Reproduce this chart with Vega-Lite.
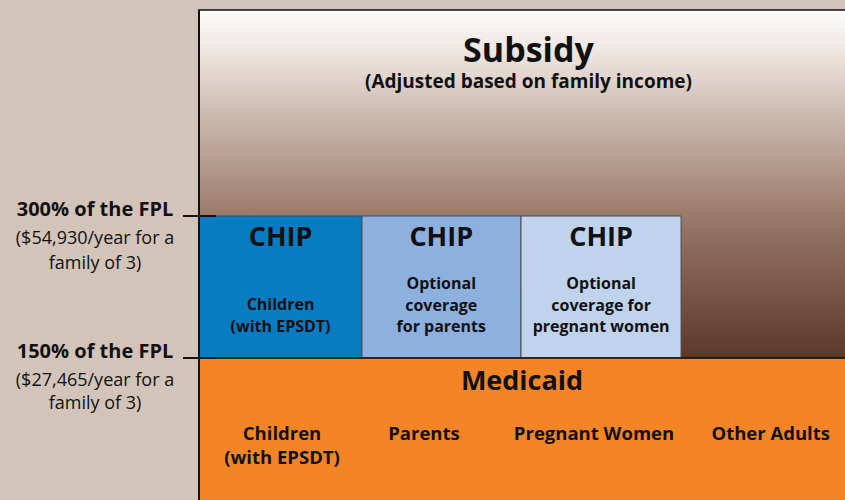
{
  "$schema": "https://vega.github.io/schema/vega-lite/v6.json",
  "width": 845,
  "height": 500,
  "autosize": {"type": "none"},
  "padding": 0,
  "background": "#d3c4ba",
  "config": {"view": {"stroke": null}},
  "datasets": {
    "boxes": [
      {"name": "Subsidy", "x0": 0, "x1": 4.05, "y0": 150, "y1": 517.5},
      {"name": "CHIP children", "x0": 0, "x1": 1.009, "y0": 150, "y1": 300},
      {"name": "CHIP parents", "x0": 1.009, "x1": 1.994, "y0": 150, "y1": 300},
      {"name": "CHIP pregnant women", "x0": 1.994, "x1": 2.985, "y0": 150, "y1": 300},
      {"name": "Medicaid", "x0": 0, "x1": 4.05, "y0": -5, "y1": 150}
    ],
    "rules": [
      {"x0": 0, "x1": 0, "y0": 0, "y1": 517.5},
      {"x0": -0.099, "x1": 0.105, "y0": 300, "y1": 300},
      {"x0": -0.099, "x1": 0.105, "y0": 150, "y1": 150}
    ],
    "labels": [
      {"role": "big", "text": "Subsidy", "x": 2.04, "y": 473.2},
      {"role": "sub", "text": "(Adjusted based on family income)", "x": 2.04, "y": 441.5},
      {"role": "chip", "text": "CHIP", "x": 0.505, "y": 276.8},
      {"role": "chip", "text": "CHIP", "x": 1.5, "y": 276.8},
      {"role": "chip", "text": "CHIP", "x": 2.49, "y": 276.8},
      {"role": "box", "text": "Children", "x": 0.505, "y": 206.0},
      {"role": "box", "text": "(with EPSDT)", "x": 0.505, "y": 182.7},
      {"role": "box", "text": "Optional", "x": 1.5, "y": 228.2},
      {"role": "box", "text": "coverage", "x": 1.5, "y": 204.9},
      {"role": "box", "text": "for parents", "x": 1.5, "y": 182.7},
      {"role": "box", "text": "Optional", "x": 2.49, "y": 228.2},
      {"role": "box", "text": "coverage for", "x": 2.49, "y": 204.9},
      {"role": "box", "text": "pregnant women", "x": 2.49, "y": 182.7},
      {"role": "medicaid", "text": "Medicaid", "x": 2.0, "y": 124.6},
      {"role": "group", "text": "Children", "x": 0.514, "y": 69.7},
      {"role": "group", "text": "(with EPSDT)", "x": 0.514, "y": 44.4},
      {"role": "group", "text": "Parents", "x": 1.393, "y": 69.7},
      {"role": "group", "text": "Pregnant Women", "x": 2.446, "y": 69.7},
      {"role": "group", "text": "Other Adults", "x": 3.54, "y": 69.7},
      {"role": "level", "text": "300% of the FPL", "x": -0.644, "y": 306.3},
      {"role": "note", "text": "($54,930/year for a", "x": -0.644, "y": 276.2},
      {"role": "note", "text": "family of 3)", "x": -0.644, "y": 249.8},
      {"role": "level", "text": "150% of the FPL", "x": -0.644, "y": 156.3},
      {"role": "note", "text": "($27,465/year for a", "x": -0.644, "y": 126.2},
      {"role": "note", "text": "family of 3)", "x": -0.644, "y": 100.9}
    ]
  },
  "layer": [
    {
      "data": {"name": "boxes"},
      "transform": [{"filter": "datum.name === 'Subsidy'"}],
      "mark": {
        "type": "rect",
        "clip": true,
        "stroke": "#111",
        "strokeWidth": 1.5,
        "fill": {
          "gradient": "linear",
          "x1": 0, "y1": 0, "x2": 0, "y2": 1,
          "stops": [
            {"offset": 0, "color": "#fcfbfa"},
            {"offset": 0.12, "color": "#eee6e1"},
            {"offset": 0.32, "color": "#c9b6ab"},
            {"offset": 0.6, "color": "#987868"},
            {"offset": 1, "color": "#5b3828"}
          ]
        }
      },
      "encoding": {
        "x": {"field": "x0", "type": "quantitative", "scale": {"domain": [-1.2322, 4], "nice": false, "zero": false}, "axis": null},
        "x2": {"field": "x1"},
        "y": {"field": "y0", "type": "quantitative", "scale": {"domain": [0, 528.17], "nice": false, "zero": false}, "axis": null},
        "y2": {"field": "y1"}
      }
    },
    {
      "data": {"name": "boxes"},
      "transform": [{"filter": "datum.name !== 'Subsidy'"}],
      "mark": {"type": "rect", "clip": true, "stroke": "#4a4a4a", "strokeWidth": 1},
      "encoding": {
        "x": {"field": "x0", "type": "quantitative", "scale": {"domain": [-1.2322, 4], "nice": false, "zero": false}, "axis": null},
        "x2": {"field": "x1"},
        "y": {"field": "y0", "type": "quantitative", "scale": {"domain": [0, 528.17], "nice": false, "zero": false}, "axis": null},
        "y2": {"field": "y1"},
        "fill": {
          "field": "name",
          "type": "nominal",
          "scale": {
            "domain": ["CHIP children", "CHIP parents", "CHIP pregnant women", "Medicaid"],
            "range": ["#087cc2", "#8db0de", "#bfd3ec", "#f48527"]
          },
          "legend": null
        }
      }
    },
    {
      "data": {"name": "boxes"},
      "transform": [{"filter": "datum.name === 'Medicaid'"}],
      "mark": {"type": "rule", "clip": true, "stroke": "#111", "strokeWidth": 1.5},
      "encoding": {
        "x": {"field": "x0", "type": "quantitative", "scale": {"domain": [-1.2322, 4], "nice": false, "zero": false}, "axis": null},
        "x2": {"field": "x1"},
        "y": {"field": "y1", "type": "quantitative", "scale": {"domain": [0, 528.17], "nice": false, "zero": false}, "axis": null}
      }
    },
    {
      "data": {"name": "rules"},
      "mark": {"type": "rule", "stroke": "#111", "strokeWidth": 2},
      "encoding": {
        "x": {"field": "x0", "type": "quantitative", "scale": {"domain": [-1.2322, 4], "nice": false, "zero": false}, "axis": null},
        "x2": {"field": "x1"},
        "y": {"field": "y0", "type": "quantitative", "scale": {"domain": [0, 528.17], "nice": false, "zero": false}, "axis": null},
        "y2": {"field": "y1"}
      }
    },
    {
      "data": {"name": "labels"},
      "transform": [{"filter": "datum.role === 'big'"}],
      "mark": {"type": "text", "font": "Open Sans", "fontWeight": "bold", "fontSize": 34, "baseline": "middle", "align": "center", "fill": "#111"},
      "encoding": {
        "x": {"field": "x", "type": "quantitative", "scale": {"domain": [-1.2322, 4], "nice": false, "zero": false}, "axis": null},
        "y": {"field": "y", "type": "quantitative", "scale": {"domain": [0, 528.17], "nice": false, "zero": false}, "axis": null},
        "text": {"field": "text"}
      }
    },
    {
      "data": {"name": "labels"},
      "transform": [{"filter": "datum.role === 'sub'"}],
      "mark": {"type": "text", "font": "Open Sans", "fontWeight": "bold", "fontSize": 19, "baseline": "middle", "align": "center", "fill": "#111"},
      "encoding": {
        "x": {"field": "x", "type": "quantitative", "scale": {"domain": [-1.2322, 4], "nice": false, "zero": false}, "axis": null},
        "y": {"field": "y", "type": "quantitative", "scale": {"domain": [0, 528.17], "nice": false, "zero": false}, "axis": null},
        "text": {"field": "text"}
      }
    },
    {
      "data": {"name": "labels"},
      "transform": [{"filter": "datum.role === 'chip'"}],
      "mark": {"type": "text", "font": "Open Sans", "fontWeight": "bold", "fontSize": 27, "baseline": "middle", "align": "center", "fill": "#111"},
      "encoding": {
        "x": {"field": "x", "type": "quantitative", "scale": {"domain": [-1.2322, 4], "nice": false, "zero": false}, "axis": null},
        "y": {"field": "y", "type": "quantitative", "scale": {"domain": [0, 528.17], "nice": false, "zero": false}, "axis": null},
        "text": {"field": "text"}
      }
    },
    {
      "data": {"name": "labels"},
      "transform": [{"filter": "datum.role === 'box'"}],
      "mark": {"type": "text", "font": "Open Sans", "fontWeight": "bold", "fontSize": 16, "baseline": "middle", "align": "center", "fill": "#111"},
      "encoding": {
        "x": {"field": "x", "type": "quantitative", "scale": {"domain": [-1.2322, 4], "nice": false, "zero": false}, "axis": null},
        "y": {"field": "y", "type": "quantitative", "scale": {"domain": [0, 528.17], "nice": false, "zero": false}, "axis": null},
        "text": {"field": "text"}
      }
    },
    {
      "data": {"name": "labels"},
      "transform": [{"filter": "datum.role === 'medicaid'"}],
      "mark": {"type": "text", "font": "Open Sans", "fontWeight": "bold", "fontSize": 27, "baseline": "middle", "align": "center", "fill": "#111"},
      "encoding": {
        "x": {"field": "x", "type": "quantitative", "scale": {"domain": [-1.2322, 4], "nice": false, "zero": false}, "axis": null},
        "y": {"field": "y", "type": "quantitative", "scale": {"domain": [0, 528.17], "nice": false, "zero": false}, "axis": null},
        "text": {"field": "text"}
      }
    },
    {
      "data": {"name": "labels"},
      "transform": [{"filter": "datum.role === 'group'"}],
      "mark": {"type": "text", "font": "Open Sans", "fontWeight": "bold", "fontSize": 18.5, "baseline": "middle", "align": "center", "fill": "#111"},
      "encoding": {
        "x": {"field": "x", "type": "quantitative", "scale": {"domain": [-1.2322, 4], "nice": false, "zero": false}, "axis": null},
        "y": {"field": "y", "type": "quantitative", "scale": {"domain": [0, 528.17], "nice": false, "zero": false}, "axis": null},
        "text": {"field": "text"}
      }
    },
    {
      "data": {"name": "labels"},
      "transform": [{"filter": "datum.role === 'level'"}],
      "mark": {"type": "text", "font": "Open Sans", "fontWeight": "bold", "fontSize": 20, "baseline": "middle", "align": "center", "fill": "#111"},
      "encoding": {
        "x": {"field": "x", "type": "quantitative", "scale": {"domain": [-1.2322, 4], "nice": false, "zero": false}, "axis": null},
        "y": {"field": "y", "type": "quantitative", "scale": {"domain": [0, 528.17], "nice": false, "zero": false}, "axis": null},
        "text": {"field": "text"}
      }
    },
    {
      "data": {"name": "labels"},
      "transform": [{"filter": "datum.role === 'note'"}],
      "mark": {"type": "text", "font": "Open Sans", "fontWeight": "normal", "fontSize": 18, "baseline": "middle", "align": "center", "fill": "#111"},
      "encoding": {
        "x": {"field": "x", "type": "quantitative", "scale": {"domain": [-1.2322, 4], "nice": false, "zero": false}, "axis": null},
        "y": {"field": "y", "type": "quantitative", "scale": {"domain": [0, 528.17], "nice": false, "zero": false}, "axis": null},
        "text": {"field": "text"}
      }
    }
  ]
}
